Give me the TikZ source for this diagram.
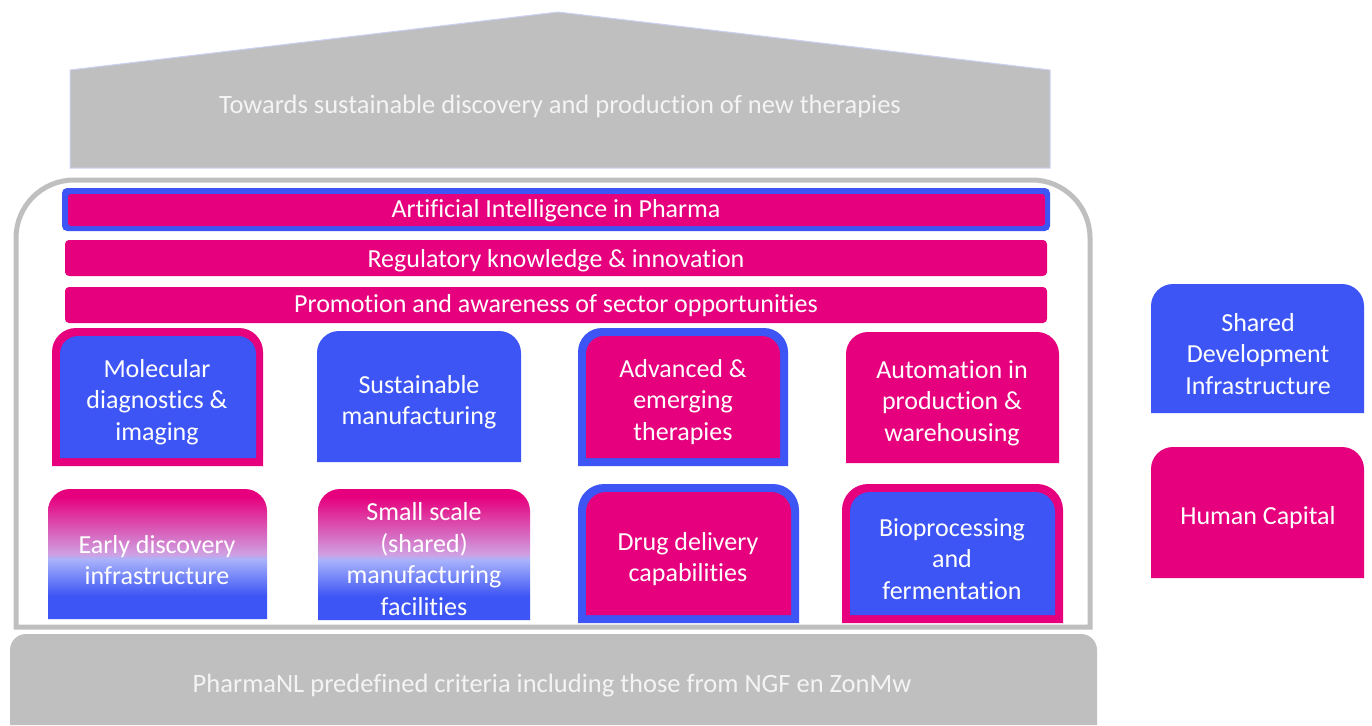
\documentclass[tikz,border=0pt]{standalone}
\usepackage{fontspec}
\setmainfont[Ligatures=NoCommon]{Carlito}
\definecolor{pharmamagenta}{HTML}{E6007E}
\definecolor{pharmablue}{HTML}{3D55F5}
\definecolor{pharmagray}{HTML}{BFBFBF}
\definecolor{pharmalilac}{HTML}{A9B3FB}
\definecolor{pharmaorchid}{HTML}{CFA0E2}
\definecolor{pharmarim}{HTML}{CDD2F5}
\definecolor{pharmapale}{HTML}{F4F4F4}
\pgfdeclareverticalshading{pharmafade}{100bp}{color(0bp)=(pharmablue); color(34bp)=(pharmablue); color(48bp)=(pharmalilac); color(50bp)=(pharmaorchid); color(72bp)=(pharmamagenta); color(100bp)=(pharmamagenta)}
% outline with rounded top corners: x1, y1, x2, y2, radius
\newcommand{\tabshape}[5]{(#1,#4) -- (#1,#2+#5) arc[start angle=180,end angle=270,radius=#5] -- (#3-#5,#2) arc[start angle=270,end angle=360,radius=#5] -- (#3,#4) -- cycle}
\begin{document}
\begin{tikzpicture}[x=1pt,y=-1pt]
\tikzstyle{bartext}=[text=white, inner sep=0pt, font=\fontsize{26}{31}\selectfont]
\tikzstyle{boxtext}=[text=white, align=center, inner sep=0pt, font=\fontsize{26}{31.5}\selectfont]
\tikzstyle{captext}=[text=pharmapale, inner sep=0pt, font=\fontsize{26.5}{31}\selectfont]
\useasboundingbox (0,0) rectangle (1372,725);
\fill[white] (0,0) rectangle (1372,725);
% roof and base
\filldraw[fill=pharmagray, draw=pharmarim, line width=1] (70,168) -- (70,70) -- (558,12) -- (1050,70) -- (1050,168) -- cycle;
\path (560,106) node[captext] (goal) {Towards sustainable discovery and production of new therapies};
\fill[pharmagray] \tabshape{10}{634}{1097}{725}{16};
\path (552,686) node[captext] (criteria) {PharmaNL predefined criteria including those from NGF en ZonMw};
\draw[pharmagray, line width=5] (16,627) -- (16,238) arc[start angle=180,end angle=270,radius=58] -- (1032,180) arc[start angle=270,end angle=360,radius=58] -- (1090,627) -- cycle;
% bars
\fill[pharmablue, rounded corners=5] (62,188) rectangle (1050,231);
\fill[pharmamagenta, rounded corners=3] (68,194) rectangle (1045,226);
\fill[pharmamagenta, rounded corners=4] (65,240) rectangle (1047,276);
\fill[pharmamagenta, rounded corners=4] (65,287) rectangle (1047,323);
\path (556,211) node[bartext] (ai) {Artificial Intelligence in Pharma};
\path (556,261) node[bartext] (regulatory) {Regulatory knowledge \& innovation};
\path (556,306) node[bartext] (promotion) {Promotion and awareness of sector opportunities};
% first row
\fill[pharmamagenta] \tabshape{52}{328}{263}{466}{24};
\fill[pharmablue] \tabshape{60}{336}{256}{458}{18};
\fill[pharmablue] \tabshape{317}{331}{521}{462}{22};
\fill[pharmablue] \tabshape{578}{328}{788}{466}{24};
\fill[pharmamagenta] \tabshape{586}{336}{780}{458}{18};
\fill[pharmamagenta] \tabshape{846}{332}{1059}{463}{22};
\path (157,402) node[boxtext] (molecular) {Molecular\\diagnostics \&\\imaging};
\path (419,402) node[boxtext] (sustainable) {Sustainable\\manufacturing};
\path (683,402) node[boxtext] (advanced) {Advanced \&\\emerging\\therapies};
\path (952,403) node[boxtext] (automation) {Automation in\\production \&\\warehousing};
% second row
\shade[shading=pharmafade] \tabshape{48}{489}{267}{619}{22};
\shade[shading=pharmafade] \tabshape{318}{489}{530}{620}{22};
\fill[pharmablue] \tabshape{578}{484}{799}{623}{26};
\fill[pharmamagenta] \tabshape{586}{492}{791}{615}{20};
\fill[pharmamagenta] \tabshape{842}{484}{1063}{623}{26};
\fill[pharmablue] \tabshape{850}{492}{1055}{615}{20};
\path (157,560) node[boxtext] (early) {Early discovery\\infrastructure};
\path (424,559) node[boxtext] (smallscale) {Small scale\\(shared)\\manufacturing\\facilities};
\path (688,559) node[boxtext] (delivery) {Drug delivery\\capabilities};
\path (952,559) node[boxtext] (bioprocessing) {Bioprocessing\\and\\fermentation};
% legend
\fill[pharmablue] \tabshape{1151}{284}{1364}{413}{22};
\fill[pharmamagenta] \tabshape{1151}{447}{1364}{578}{22};
\path (1258,354) node[boxtext] (shared) {Shared\\Development\\Infrastructure};
\path (1258,518) node[boxtext] (human) {Human Capital};
\end{tikzpicture}
\end{document}
